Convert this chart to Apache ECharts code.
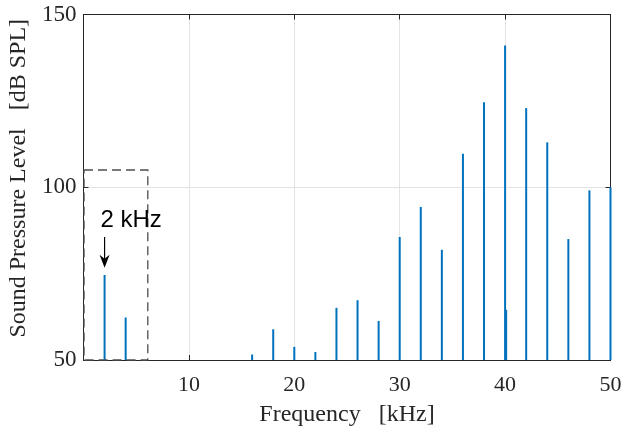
<!DOCTYPE html>
<html>
<head>
<meta charset="utf-8">
<script src="https://cdn.jsdelivr.net/npm/echarts@6/dist/echarts.min.js"></script>
<style>
  html, body { margin: 0; padding: 0; background: #fff; }
  #chart { width: 624px; height: 432px; }
</style>
</head>
<body>
<div id="chart"></div>
<script>
// ---- Data ----
var frequencies = [2, 4, 16, 18, 20, 22, 24, 26, 28, 30, 32, 34, 36, 38, 40, 42, 44, 46, 48, 50];
var levels = [74.6, 62.3, 51.6, 58.9, 53.8, 52.3, 65.1, 67.3, 61.3, 85.6, 94.3, 81.9, 109.7, 124.6, 141.0, 122.9, 113.0, 85.0, 99.1, 100.0];
var extraFrequencies = [40.1];
var extraLevels = [64.5];
var xTicks = [10, 20, 30, 40, 50];
var yTicks = [50, 100, 150];
var zoomBox = [0.05, 50, 6.1, 105];      // x0, y0, x1, y1 in data units
var annotationText = '2 kHz';
var annotationTextPos = [4.52, 90.5];
var arrowFrom = [2, 85.6];
var arrowTo = [2, 76.7];

var yBase = 50;
var stemColor = '#0072BD';
var axisColor = '#262626';
var serif = '"Liberation Serif", "Times New Roman", serif';
var sans = '"Liberation Sans", Arial, sans-serif';

function stemRender(params, api) {
  var x = api.value(0), y = api.value(1);
  var p1 = api.coord([x, yBase]);
  var p2 = api.coord([x, y]);
  return {
    type: 'line',
    shape: { x1: p1[0], y1: p1[1], x2: p2[0], y2: p2[1] },
    style: { stroke: stemColor, lineWidth: 2 }
  };
}

function boxRender(params, api) {
  var a = api.coord([api.value(0), api.value(1)]);
  var b = api.coord([api.value(2), api.value(3)]);
  return {
    type: 'rect',
    shape: { x: Math.min(a[0], b[0]), y: Math.min(a[1], b[1]), width: Math.abs(b[0] - a[0]), height: Math.abs(b[1] - a[1]) },
    style: { fill: 'none', stroke: '#4d4d4d', lineWidth: 1.3, lineDash: [9, 5] }
  };
}

function annoRender(params, api) {
  var t = api.coord(annotationTextPos);
  var f = api.coord(arrowFrom);
  var tip = api.coord(arrowTo);
  return {
    type: 'group',
    children: [
      { type: 'text', style: { text: annotationText, x: t[0], y: t[1], align: 'center', verticalAlign: 'middle', fontSize: 24, fontFamily: sans, fill: '#000' } },
      { type: 'line', shape: { x1: f[0], y1: f[1], x2: tip[0], y2: tip[1] - 8 }, style: { stroke: '#000', lineWidth: 1.2 } },
      { type: 'polygon', shape: { points: [[tip[0], tip[1]], [tip[0] - 5, tip[1] - 13], [tip[0], tip[1] - 9], [tip[0] + 5, tip[1] - 13]] }, style: { fill: '#000' } }
    ]
  };
}

var stemData = frequencies.map(function (f, i) { return [f, levels[i]]; });
var extraData = extraFrequencies.map(function (f, i) { return [f, extraLevels[i]]; });

var chart = echarts.init(document.getElementById('chart'), null, { renderer: 'canvas' });
chart.setOption({
  animation: false,
  backgroundColor: '#fff',
  grid: { left: 83.5, right: 13.5, top: 14.5, bottom: 72, containLabel: false, outerBoundsMode: 'none' },
  xAxis: [{
    type: 'value', min: 0, max: 50, interval: 10,
    name: 'Frequency   [kHz]', nameLocation: 'middle', nameGap: 43,
    nameTextStyle: { fontFamily: serif, fontSize: 24, color: axisColor },
    axisLine: { show: true, onZero: false, lineStyle: { color: axisColor, width: 1 } },
    axisTick: { show: true, inside: true, length: 5, lineStyle: { color: axisColor } },
    axisLabel: { fontFamily: serif, fontSize: 22, color: axisColor, margin: 14,
      formatter: function (v) { return xTicks.indexOf(v) >= 0 ? String(v) : ''; } },
    splitLine: { show: true, lineStyle: { color: '#e3e3e3', width: 1 } }
  }, {
    type: 'value', position: 'top', min: 0, max: 50, interval: 10,
    axisLine: { show: true, onZero: false, lineStyle: { color: axisColor, width: 1 } },
    axisTick: { show: true, inside: true, length: 5, lineStyle: { color: axisColor } },
    axisLabel: { show: false }, splitLine: { show: false }
  }],
  yAxis: [{
    type: 'value', min: 50, max: 150, interval: 50,
    name: 'Sound Pressure Level   [dB SPL]', nameLocation: 'middle', nameGap: 42,
    nameTextStyle: { fontFamily: serif, fontSize: 24, color: axisColor, padding: [0, 0, 0, 18] },
    axisLine: { show: true, onZero: false, lineStyle: { color: axisColor, width: 1 } },
    axisTick: { show: true, inside: true, length: 5, lineStyle: { color: axisColor } },
    axisLabel: { fontFamily: serif, fontSize: 23, color: axisColor, margin: 7,
      formatter: function (v) { return yTicks.indexOf(v) >= 0 ? String(v) : ''; } },
    splitLine: { show: true, lineStyle: { color: '#e3e3e3', width: 1 } }
  }, {
    type: 'value', position: 'right', min: 50, max: 150, interval: 50,
    axisLine: { show: true, onZero: false, lineStyle: { color: axisColor, width: 1 } },
    axisTick: { show: true, inside: true, length: 5, lineStyle: { color: axisColor } },
    axisLabel: { show: false }, splitLine: { show: false }
  }],
  series: [
    { type: 'custom', renderItem: stemRender, data: stemData, xAxisIndex: 0, yAxisIndex: 0, z: 3 },
    { type: 'custom', renderItem: stemRender, data: extraData, xAxisIndex: 0, yAxisIndex: 0, z: 3 },
    { type: 'custom', renderItem: boxRender, data: [zoomBox], xAxisIndex: 0, yAxisIndex: 0, z: 4 },
    { type: 'custom', renderItem: annoRender, data: [[0]], xAxisIndex: 0, yAxisIndex: 0, z: 5 }
  ]
});
</script>
</body>
</html>
